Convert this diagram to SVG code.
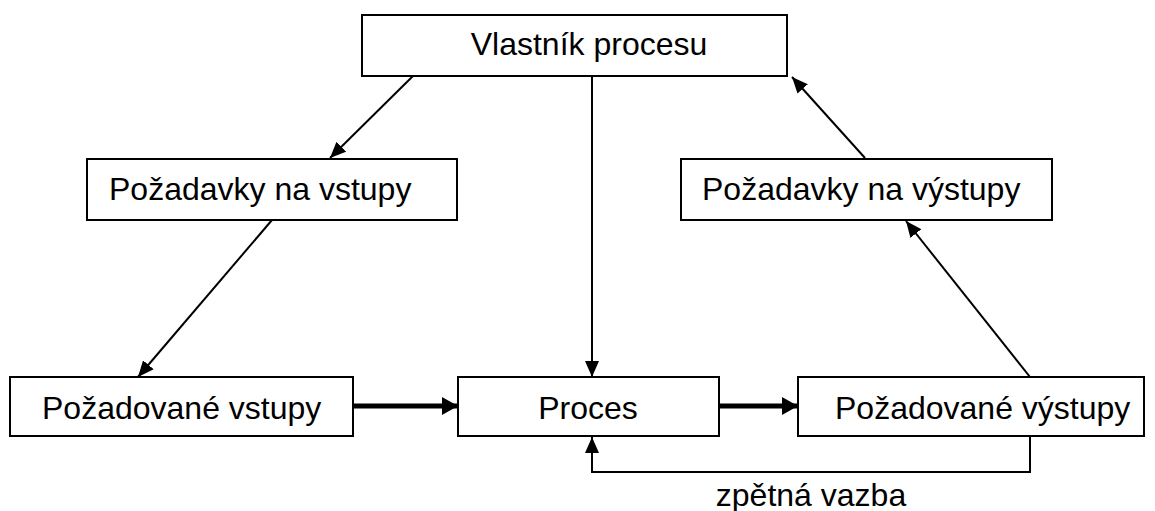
<svg xmlns="http://www.w3.org/2000/svg" width="1155" height="511" viewBox="0 0 1155 511">
<style>
.box{fill:#fff;stroke:#000;stroke-width:2}
.t{font-family:"Liberation Sans",Arial,sans-serif;font-size:32px;fill:#000}
.c{text-anchor:middle}
.ln{fill:none;stroke:#000;stroke-width:2}
.thick{fill:none;stroke:#000;stroke-width:5}
</style>
<defs>
<marker id="ah" markerUnits="userSpaceOnUse" markerWidth="16" markerHeight="14" refX="16" refY="7" orient="auto"><path d="M0,0 L16,7 L0,14 Z" fill="#000"/></marker>
<marker id="ahb" markerUnits="userSpaceOnUse" markerWidth="16" markerHeight="18" refX="16" refY="9" orient="auto"><path d="M0,0 L16,9 L0,18 Z" fill="#000"/></marker>
</defs>
<rect width="1155" height="511" fill="#fff"/>
<g id="connectors">
<line class="ln" x1="413" y1="76" x2="330" y2="158" marker-end="url(#ah)"/>
<line class="ln" x1="272" y1="220" x2="138" y2="377" marker-end="url(#ah)"/>
<line class="ln" x1="592" y1="76" x2="592" y2="377" marker-end="url(#ah)"/>
<line class="thick" x1="353" y1="406" x2="458" y2="406" marker-end="url(#ahb)"/>
<line class="thick" x1="719" y1="406" x2="798" y2="406" marker-end="url(#ahb)"/>
<line class="ln" x1="1030" y1="377" x2="906" y2="221" marker-end="url(#ah)"/>
<line class="ln" x1="865" y1="158" x2="792" y2="77" marker-end="url(#ah)"/>
<polyline class="ln" points="1030,436 1030,472 592,472 592,437" marker-end="url(#ah)"/>
</g>
<g id="vlastnik"><rect class="box" x="362" y="15" width="425" height="61"/><text class="t c" x="589" y="55">Vlastník procesu</text></g>
<g id="pozadavky-vstupy"><rect class="box" x="87" y="159" width="370" height="61"/><text class="t" x="109" y="200">Požadavky na vstupy</text></g>
<g id="pozadavky-vystupy"><rect class="box" x="681" y="159" width="371" height="61"/><text class="t" x="702" y="200">Požadavky na výstupy</text></g>
<g id="pozadovane-vstupy"><rect class="box" x="10" y="377" width="343" height="59"/><text class="t" x="42" y="419">Požadované vstupy</text></g>
<g id="proces"><rect class="box" x="458" y="377" width="261" height="59"/><text class="t c" x="588" y="419">Proces</text></g>
<g id="pozadovane-vystupy"><rect class="box" x="798" y="377" width="346" height="59"/><text class="t" x="835" y="419">Požadované výstupy</text></g>
<text class="t c" x="811" y="506">zpětná vazba</text>
</svg>
